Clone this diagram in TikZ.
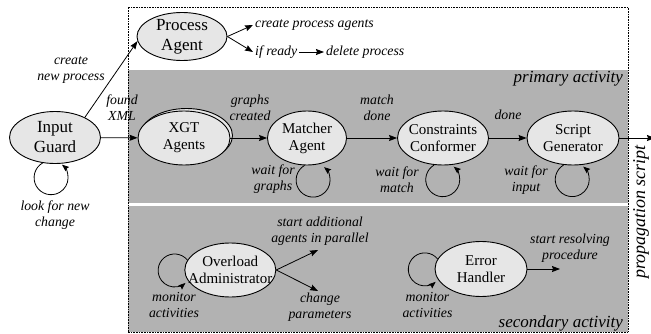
\documentclass[tikz,border=0pt]{standalone}
\usepackage{fontspec}
\setmainfont{Liberation Serif}
\usetikzlibrary{arrows.meta,shapes.geometric,calc}

\definecolor{panel}{HTML}{B2B2B2}
\definecolor{statefill}{HTML}{E6E6E6}

\begin{document}
\begin{tikzpicture}[x=1pt,y=1pt,
  st/.style={ellipse, draw, line width=0.9pt, fill=statefill, inner sep=0pt},
  sttext/.style={align=center, font=\fontsize{15}{17}\selectfont, inner sep=0pt},
  bigtext/.style={align=center, font=\fontsize{17}{20}\selectfont, inner sep=0pt},
  lbl/.style={align=center, font=\fontsize{13.8}{16}\selectfont\itshape, inner sep=0pt},
  side/.style={font=\fontsize{13.8}{16}\selectfont\itshape, inner sep=2pt, anchor=west},
  area/.style={font=\fontsize{17}{20}\selectfont\itshape, inner sep=0pt, anchor=base east},
  conn/.style={line width=0.8pt, -{Stealth[length=8pt,width=6pt,inset=1pt]}},
  loopc/.style={line width=0.8pt, -{Stealth[length=7pt,width=5.5pt,inset=1pt]}},
]
\useasboundingbox (0,0) rectangle (651,333);

% activity panels and the dotted frame around them
\fill[panel] (128,130) rectangle (628,263);
\fill[panel] (128,1) rectangle (628,127);
\draw[line width=0.6pt, dash pattern=on 0.7pt off 0.9pt] (128,1) rectangle (628,326);

\node[area] (prim) at (623,251) {primary activity};
\node[area] (sec) at (623,6) {secondary activity};

% states
\node[st, minimum width=91pt, minimum height=52pt] (ig) at (55,195.5) {};
\node[bigtext] (igt) at (ig) {Input\\Guard};

\node[st, minimum width=90pt, minimum height=48pt] (pa) at (182,296.5) {};
\node[bigtext] (pat) at (pa) {Process\\Agent};

\node[st, minimum width=92pt, minimum height=54pt] (xgtb) at (186.5,197.5) {};
\node[st, minimum width=92pt, minimum height=54pt] (xgt) at (184,195) {};
\node[sttext] (xgtt) at (xgt) {XGT\\Agents};

\node[st, minimum width=79pt, minimum height=54pt] (ma) at (307,195) {};
\node[sttext] (mat) at (ma) {Matcher\\Agent};

\node[st, minimum width=91pt, minimum height=54pt] (cc) at (443,195) {};
\node[sttext] (cct) at (cc) {Constraints\\Conformer};

\node[st, minimum width=92pt, minimum height=54pt] (sg) at (573,195) {};
\node[sttext] (sgt) at (sg) {Script\\Generator};

\node[st, minimum width=91pt, minimum height=54pt] (oa) at (230.3,63) {};
\node[sttext] (oat) at (oa) {Overload\\Administrator};

\node[st, minimum width=92pt, minimum height=55pt] (eh) at (481,64) {};
\node[sttext] (eht) at (eh) {Error\\Handler};

% free ends
\coordinate (out) at (655,195);
\coordinate (oa1) at (318,83);
\coordinate (oa2) at (318,42);
\coordinate (eh1) at (560,64);

% process agent actions
\node[side] (cpa) at (253,308) {create process agents};
\node[side] (ifr) at (253,281) {if ready};
\node[side] (del) at (324,281) {delete process};
\draw[conn] (pa.east) -- (cpa.west);
\draw[conn] (pa.east) -- (ifr.west);
\draw[conn] (ifr.east) -- (del.west);

% transitions
\draw[conn] (ig.34) -- (pa.186);
\draw[conn] (ig) -- (xgt);
\draw[conn] (xgt) -- (ma);
\draw[conn] (ma) -- (cc);
\draw[conn] (cc) -- (sg);
\draw[conn] (sg.east) -- (out);
\draw[conn] (oa.east) -- (oa1);
\draw[conn] (oa.east) -- (oa2);
\draw[conn] (eh.east) -- (eh1);

% self loops
\draw[loopc] (ig.244) arc[start angle=120, end angle=410, radius=17];
\draw[loopc] (ma.265) arc[start angle=120, end angle=410, radius=17];
\draw[loopc] (cc.252) arc[start angle=120, end angle=410, radius=17];
\draw[loopc] (sg.251) arc[start angle=120, end angle=410, radius=17];
\draw[loopc] (oa.167) arc[start angle=39, end angle=311, radius=16.5];
\draw[loopc] (eh.167) arc[start angle=39, end angle=311, radius=16.5];

% labels
\node[lbl] (l1) at (71,262.5) {create\\new process};
\node[lbl] (l2) at (122,225) {found\\XML};
\node[lbl] (l3) at (250,225) {graphs\\created};
\node[lbl] (l4) at (377,225) {match\\done};
\node[lbl] (l5) at (508,218) {done};
\node[lbl] (l6) at (55,118) {look for new\\change};
\node[lbl] (l7) at (273,154) {wait for\\graphs};
\node[lbl] (l8) at (397,153) {wait for\\match};
\node[lbl] (l9) at (526,153) {wait for\\input};
\node[lbl] (l10) at (174,28.5) {monitor\\activities};
\node[lbl] (l11) at (427.5,28.5) {monitor\\activities};
\node[lbl] (l12) at (320,102) {start additional\\agents in parallel};
\node[lbl] (l13) at (320,26) {change\\parameters};
\node[lbl] (l14) at (570,84.5) {start resolving\\procedure};

\node[rotate=90, font=\fontsize{18}{20}\selectfont\itshape, inner sep=0pt] (ps) at (641,121) {propagation script};
\end{tikzpicture}
\end{document}
